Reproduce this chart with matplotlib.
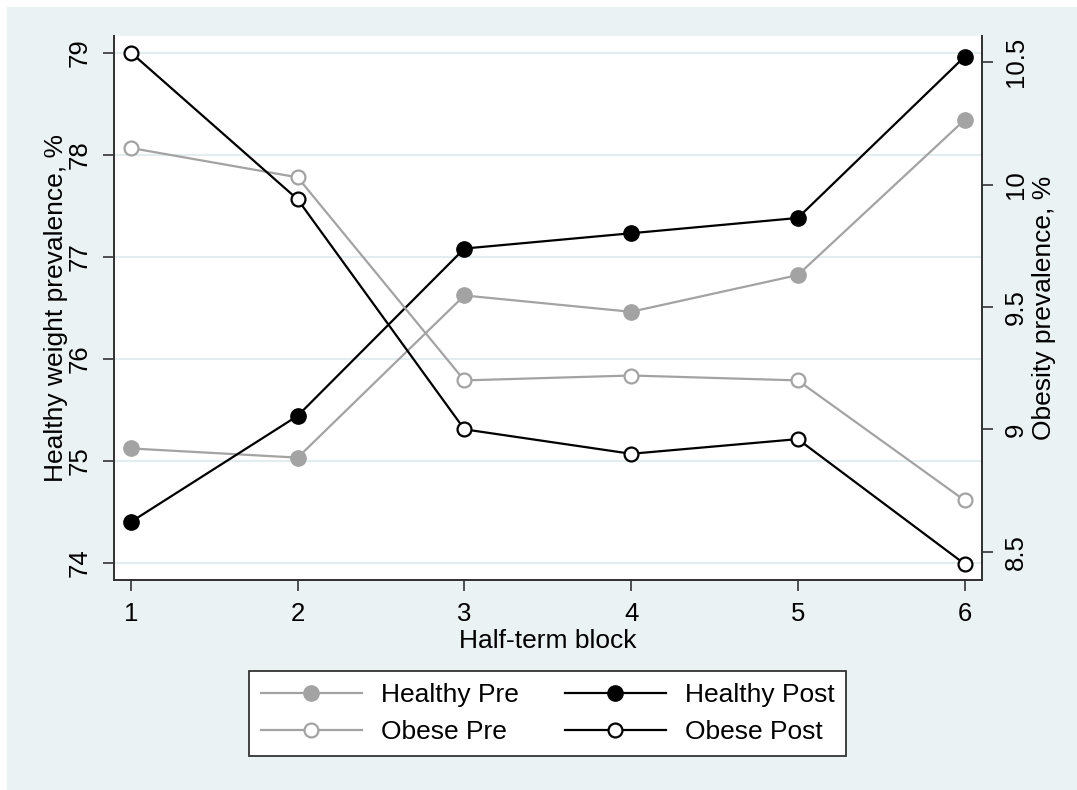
import matplotlib
matplotlib.use("Agg")
import matplotlib.pyplot as plt
from matplotlib.patches import Rectangle

# values
blocks = [1, 2, 3, 4, 5, 6]
healthy_pre = [75.12, 75.03, 76.62, 76.46, 76.82, 78.34]
healthy_post = [74.40, 75.44, 77.08, 77.23, 77.38, 78.96]
obese_pre = [10.15, 10.03, 9.20, 9.22, 9.20, 8.71]
obese_post = [10.54, 9.94, 9.00, 8.90, 8.96, 8.45]

left_ticks = [74, 75, 76, 77, 78, 79]
right_ticks = [8.5, 9, 9.5, 10, 10.5]
right_ticklabels = ["8.5", "9", "9.5", "10", "10.5"]

plt.rcParams['font.family'] = ['Liberation Sans', 'DejaVu Sans']

bg = '#EAF2F3'
grey = '#A3A3A3'
dark = '#333333'
fs = 19
tfs = 18.5

fig = plt.figure(figsize=(10.77, 7.90), dpi=100)
fig.patch.set_facecolor('white')
# Stata-style light background (white strip on top and left)
fig.patches.append(Rectangle((7 / 1077, 0), 1, 1 - 7 / 790, transform=fig.transFigure,
                             facecolor=bg, edgecolor='none', zorder=-10))

ax = fig.add_axes([0.1058, 0.2658, 0.8057, 0.689])
ax.set_facecolor('white')
ax2 = ax.twinx()

l1, = ax.plot(blocks, healthy_pre, color=grey, lw=1.6, marker='o', ms=11,
              mfc=grey, mec=grey, label='Healthy Pre')
l2, = ax.plot(blocks, healthy_post, color='black', lw=1.6, marker='o', ms=11,
              mfc='black', mec='black', label='Healthy Post')
l3, = ax2.plot(blocks, obese_pre, color=grey, lw=1.6, marker='o', ms=10, mew=1.6,
               mfc='white', mec=grey, label='Obese Pre')
l4, = ax2.plot(blocks, obese_post, color='black', lw=1.6, marker='o', ms=10, mew=1.6,
               mfc='white', mec='black', label='Obese Post')

ax.set_xlim(0.898, 6.103)
ax.set_ylim(73.83, 79.167)
ax2.set_ylim(8.384, 10.609)

ax.set_xticks(blocks)
ax.set_yticks(left_ticks)
ax2.set_yticks(right_ticks)
ax2.set_yticklabels(right_ticklabels)

ax.grid(axis='y', color='#E3EDEF', lw=1.5)
ax.set_axisbelow(True)

for a in (ax, ax2):
    a.spines['top'].set_visible(False)
    for s in ('left', 'right', 'bottom'):
        a.spines[s].set_color(dark)
        a.spines[s].set_linewidth(1.3)
    a.tick_params(length=8, width=1.2, color=dark, labelsize=tfs, pad=8,
                  labelcolor='black')

plt.setp(ax.get_yticklabels(), rotation=90, va='center')
plt.setp(ax2.get_yticklabels(), rotation=90, va='center')

fig.text(56 / 1077, 1 - 308 / 790, 'Healthy weight prevalence, %', rotation=90,
         ha='center', va='center', fontsize=fs)
fig.text(1044 / 1077, 1 - 308 / 790, 'Obesity prevalence, %', rotation=90,
         ha='center', va='center', fontsize=fs)
fig.text(548 / 1077, 1 - 648.3 / 790, 'Half-term block', ha='center', va='baseline',
         fontsize=fs)

leg = fig.legend(handles=[l1, l3, l2, l4], ncol=2, loc='center',
                 bbox_to_anchor=(547.5 / 1077, 1 - 713.5 / 790), fontsize=fs,
                 frameon=True, fancybox=False, edgecolor=dark, framealpha=1,
                 handlelength=3.85, handletextpad=0.7, columnspacing=1.75,
                 labelspacing=0.5, borderpad=0.45)
leg.get_frame().set_linewidth(1.3)

fig.savefig('out.png', dpi=100, facecolor=fig.get_facecolor())
